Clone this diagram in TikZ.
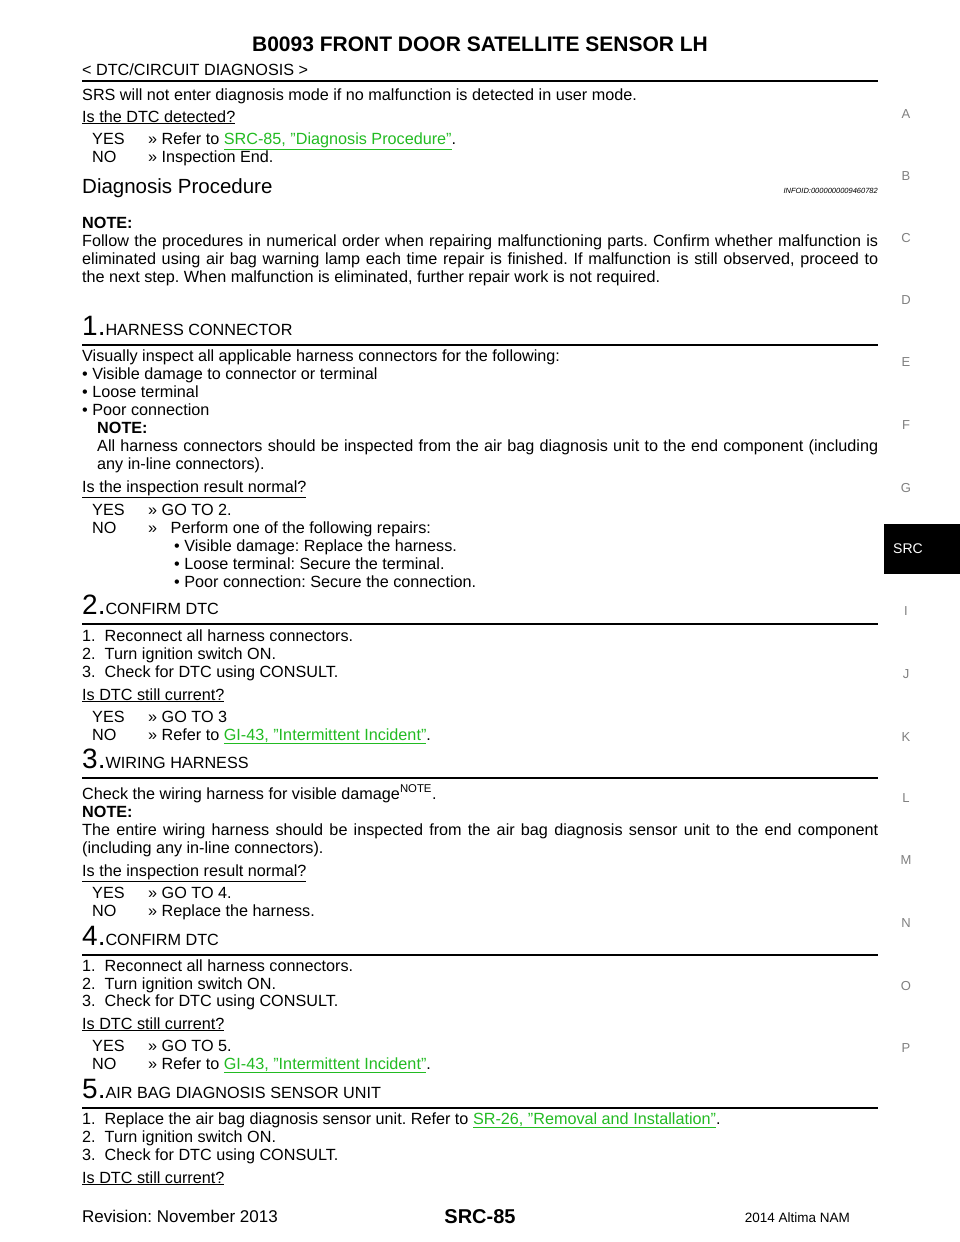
\documentclass[tikz,border=0pt]{standalone}
\usepackage{fontspec}
\setmainfont{Liberation Sans}[Ligatures=ResetAll]
\definecolor{lnk}{HTML}{22BB22}
\newcommand{\lk}[1]{\textcolor{lnk}{\underline{#1}}}
\newcommand{\ul}[1]{\underline{#1}}
\newcommand{\jl}[2]{\makebox[#1][s]{#2}}
\frenchspacing
\begin{document}
\begin{tikzpicture}[x=1pt,y=-1pt,
  txt/.style={anchor=base west,inner sep=0pt,font=\fontsize{16.2}{19}\selectfont},
  side/.style={anchor=center,inner sep=0pt,text=gray,font=\fontsize{13}{15}\selectfont},
  rl/.style={line width=1.2pt},
  stp/.style={anchor=base west,inner sep=0pt,font=\fontsize{16.2}{19}\selectfont}]
\useasboundingbox (0,0) rectangle (960,1242);
\fill[white] (0,0) rectangle (960,1242);
\node[anchor=center,font=\bfseries\fontsize{21}{25}\selectfont] (title) at (480,44) {B0093 FRONT DOOR SATELLITE SENSOR LH};
\node[txt] (hdr) at (82,75) {< DTC/CIRCUIT DIAGNOSIS >};
\draw[line width=1.8pt] (82,81) -- (878,81);
\node[txt] (a1) at (82,100) {SRS will not enter diagnosis mode if no malfunction is detected in user mode.};
\node[txt] (a2) at (82,122) {\ul{Is the DTC detected?}};
\node[txt] (a3) at (92,144) {YES};\node[txt] (a3b) at (148,144) {>> Refer to \lk{SRC-85, "Diagnosis Procedure"}.};
\node[txt] (a4) at (92,162) {NO};\node[txt] (a4b) at (148,162) {>> Inspection End.};
\node[txt,font=\fontsize{20.5}{24}\selectfont] (dp) at (82,193) {Diagnosis Procedure};
\node[anchor=base east,inner sep=0pt,font=\itshape\fontsize{7.5}{9}\selectfont] (info) at (878,193) {INFOID:0000000009460782};
\node[txt,font=\bfseries\fontsize{16.2}{19}\selectfont] (n1) at (82,228) {NOTE:};
\node[txt] (n2) at (82,246) {\jl{796pt}{Follow the procedures in numerical order when repairing malfunctioning parts. Confirm whether malfunction is}};
\node[txt] (n3) at (82,264) {\jl{796pt}{eliminated using air bag warning lamp each time repair is finished. If malfunction is still observed, proceed to}};
\node[txt] (n4) at (82,282) {the next step. When malfunction is eliminated, further repair work is not required.};
% step 1
\node[stp] (s1) at (82,335) {{\fontsize{28}{30}\selectfont 1.}HARNESS CONNECTOR};
\draw[rl] (82,345) -- (878,345);
\node[txt] (b1) at (82,361) {Visually inspect all applicable harness connectors for the following:};
\node[txt] (b2) at (82,379) {\textbullet\ Visible damage to connector or terminal};
\node[txt] (b3) at (82,397) {\textbullet\ Loose terminal};
\node[txt] (b4) at (82,415) {\textbullet\ Poor connection};
\node[txt,font=\bfseries\fontsize{16.2}{19}\selectfont] (b5) at (97,433) {NOTE:};
\node[txt] (b6) at (97,451) {\jl{781pt}{All harness connectors should be inspected from the air bag diagnosis unit to the end component (including}};
\node[txt] (b7) at (97,469) {any in-line connectors).};
\node[txt] (b8) at (82,492) {\ul{Is the inspection result normal?}};
\node[txt] (b9) at (92,515) {YES};\node[txt] (b9b) at (148,515) {>> GO TO 2.};
\node[txt] (b10) at (92,533) {NO};\node[txt] (b10b) at (148,533) {>>\ \ \ Perform one of the following repairs:};
\node[txt] (b11) at (174,551) {\textbullet\ Visible damage: Replace the harness.};
\node[txt] (b12) at (174,569) {\textbullet\ Loose terminal: Secure the terminal.};
\node[txt] (b13) at (174,587) {\textbullet\ Poor connection: Secure the connection.};
% step 2
\node[stp] (s2) at (82,614) {{\fontsize{28}{30}\selectfont 2.}CONFIRM DTC};
\draw[rl] (82,624) -- (878,624);
\node[txt] (c1) at (82,641) {1.\ \ Reconnect all harness connectors.};
\node[txt] (c2) at (82,659) {2.\ \ Turn ignition switch ON.};
\node[txt] (c3) at (82,677) {3.\ \ Check for DTC using CONSULT.};
\node[txt] (c4) at (82,700) {\ul{Is DTC still current?}};
\node[txt] (c5) at (92,722) {YES};\node[txt] (c5b) at (148,722) {>> GO TO 3};
\node[txt] (c6) at (92,740) {NO};\node[txt] (c6b) at (148,740) {>> Refer to \lk{GI-43, "Intermittent Incident"}.};
% step 3
\node[stp] (s3) at (82,768) {{\fontsize{28}{30}\selectfont 3.}WIRING HARNESS};
\draw[rl] (82,778) -- (878,778);
\node[txt] (d1) at (82,799) {Check the wiring harness for visible damage\textsuperscript{NOTE}.};
\node[txt,font=\bfseries\fontsize{16.2}{19}\selectfont] (d2) at (82,817) {NOTE:};
\node[txt] (d3) at (82,835) {\jl{796pt}{The entire wiring harness should be inspected from the air bag diagnosis sensor unit to the end component}};
\node[txt] (d4) at (82,853) {(including any in-line connectors).};
\node[txt] (d5) at (82,876) {\ul{Is the inspection result normal?}};
\node[txt] (d6) at (92,898) {YES};\node[txt] (d6b) at (148,898) {>> GO TO 4.};
\node[txt] (d7) at (92,916) {NO};\node[txt] (d7b) at (148,916) {>> Replace the harness.};
% step 4
\node[stp] (s4) at (82,945) {{\fontsize{28}{30}\selectfont 4.}CONFIRM DTC};
\draw[rl] (82,955) -- (878,955);
\node[txt] (e1) at (82,971) {1.\ \ Reconnect all harness connectors.};
\node[txt] (e2) at (82,989) {2.\ \ Turn ignition switch ON.};
\node[txt] (e3) at (82,1006) {3.\ \ Check for DTC using CONSULT.};
\node[txt] (e4) at (82,1029) {\ul{Is DTC still current?}};
\node[txt] (e5) at (92,1051) {YES};\node[txt] (e5b) at (148,1051) {>> GO TO 5.};
\node[txt] (e6) at (92,1069) {NO};\node[txt] (e6b) at (148,1069) {>> Refer to \lk{GI-43, "Intermittent Incident"}.};
% step 5
\node[stp] (s5) at (82,1098) {{\fontsize{28}{30}\selectfont 5.}AIR BAG DIAGNOSIS SENSOR UNIT};
\draw[rl] (82,1108) -- (878,1108);
\node[txt] (f1) at (82,1124) {1.\ \ Replace the air bag diagnosis sensor unit. Refer to \lk{SR-26, "Removal and Installation"}.};
\node[txt] (f2) at (82,1142) {2.\ \ Turn ignition switch ON.};
\node[txt] (f3) at (82,1160) {3.\ \ Check for DTC using CONSULT.};
\node[txt] (f4) at (82,1183) {\ul{Is DTC still current?}};
% footer
\node[txt,font=\fontsize{17}{20}\selectfont] (rev) at (82,1222) {Revision: November 2013};
\node[anchor=base,inner sep=0pt,font=\bfseries\fontsize{20}{22}\selectfont] (pg) at (480,1223) {SRC-85};
\node[anchor=base east,inner sep=0pt,font=\fontsize{13.5}{16}\selectfont] (alt) at (850,1222) {2014 Altima NAM};
% side tabs
\fill[black] (884,524) rectangle (960,574);
\node[anchor=center,inner sep=0pt,text=white,font=\fontsize{14}{16}\selectfont] (src) at (908,549) {SRC};
\foreach \l/\y in {A/114,B/176,C/238,D/300,E/362,F/425,G/488,I/611,J/674,K/737,L/798,M/860,N/923,O/986,P/1048}
  \node[side] (side\l) at (906,\y) {\l};
\end{tikzpicture}
\end{document}
